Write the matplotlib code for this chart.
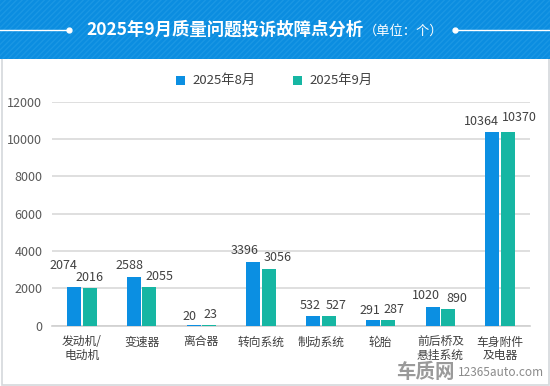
import numpy as np
import matplotlib
matplotlib.use("Agg")
import matplotlib.pyplot as plt
from matplotlib.patches import Rectangle

plt.rcParams['font.family'] = ['Noto Sans CJK SC', 'DejaVu Sans']

categories = ['发动机/\n电动机', '变速器', '离合器', '转向系统', '制动系统',
              '轮胎', '前后桥及\n悬挂系统', '车身附件\n及电器']
aug = [2074, 2588, 20, 3396, 532, 291, 1020, 10364]
sep = [2016, 2055, 23, 3056, 527, 287, 890, 10370]
series_names = ['2025年8月', '2025年9月']
yticks = [0, 2000, 4000, 6000, 8000, 10000, 12000]

blue = '#0b8fe2'
teal = '#16b6a3'
header_blue = '#0b8de0'

W, H = 550, 386
fig = plt.figure(figsize=(W / 100, H / 100), dpi=100)
fig.patch.set_facecolor('white')

# background / decoration layer in pixel coords
bg = fig.add_axes([0, 0, 1, 1])
bg.set_xlim(0, W)
bg.set_ylim(H, 0)
bg.axis('off')
bg.add_patch(Rectangle((1.5, 58), W - 3, H - 59.5, facecolor='white',
                       edgecolor='#d4d8dc', lw=1.2))
bg.add_patch(Rectangle((0, 0), W, 59, facecolor=header_blue, edgecolor='none'))
bg.add_patch(Rectangle((0, 0), W, 59, facecolor='none', edgecolor='#1a97e4',
                       hatch='//////', lw=0))
bg.plot([0, 68], [30, 30], color='white', lw=1)
bg.plot([456, W], [30, 30], color='white', lw=1)
bg.plot([69, 455], [30, 30], 'o', color='white', ms=3.5)
bg.text(86, 30, '2025年9月质量问题投诉故障点分析', color='white', fontsize=12.5,
        fontweight='bold', va='center', ha='left')
bg.text(364, 31, '（单位：个）', color='white', fontsize=9.5, va='center', ha='left')

# legend
bg.add_patch(Rectangle((176, 76), 8.5, 8.5, facecolor=blue, edgecolor='none'))
bg.text(192, 80, series_names[0], fontsize=9.5, color='#404040', va='center')
bg.add_patch(Rectangle((293, 76), 8.5, 8.5, facecolor=teal, edgecolor='none'))
bg.text(309, 80, series_names[1], fontsize=9.5, color='#404040', va='center')

# watermark
bg.text(396, 372, '车质网', fontsize=14, fontweight='bold', color='#9a9a9a',
        va='center', ha='left')
bg.text(458, 373, '12365auto.com', fontsize=8.5, color='#8a8a8a',
        va='center', ha='left')

# chart
ax = fig.add_axes([52 / W, (H - 325.7) / H, 478 / W, 224 / H])
ax.set_facecolor('none')
x = np.arange(len(categories))
w = 0.235
gap = 0.025
b1 = ax.bar(x - w / 2 - gap / 2, aug, w, color=blue, zorder=3)
b2 = ax.bar(x + w / 2 + gap / 2, sep, w, color=teal, zorder=3)

ax.set_xlim(-0.5, len(categories) - 0.5)
ax.set_ylim(0, 12000)
ax.set_yticks(yticks)
ax.set_yticklabels([str(t) for t in yticks])
ax.grid(axis='y', color='#d9d9d9', lw=1.2, zorder=0)
for s in ['top', 'right', 'left']:
    ax.spines[s].set_visible(False)
ax.spines['bottom'].set_color('#d0d0d0')
ax.spines['bottom'].set_linewidth(1.2)
ax.tick_params(axis='y', length=0, pad=7, labelsize=9, labelcolor='#595959')
ax.tick_params(axis='x', length=0, pad=7, labelsize=8.5, labelcolor='#404040')
ax.set_xticks(x)
ax.set_xticklabels(categories, linespacing=1.05)

# label nudges (points) so neighbouring labels don't collide
dx1 = [-8, -3, -3, -6, -2, -2, -5, -8]
dx2 = [0, 7, 1, 6, 5, 4, 6.5, 8]
up1 = [11, 4, 2, 4, 3, 2, 3, 3]
up2 = [3, 3, 3, 3, 3, 3, 3, 6]
for i, (r1, r2) in enumerate(zip(b1, b2)):
    ax.annotate(str(aug[i]), (r1.get_x() + r1.get_width() / 2, r1.get_height()),
                xytext=(dx1[i], up1[i]), textcoords='offset points',
                ha='center', va='bottom', fontsize=9, color='#404040')
    ax.annotate(str(sep[i]), (r2.get_x() + r2.get_width() / 2, r2.get_height()),
                xytext=(dx2[i], up2[i]), textcoords='offset points',
                ha='center', va='bottom', fontsize=9, color='#404040')

fig.savefig('out.png', dpi=100)
